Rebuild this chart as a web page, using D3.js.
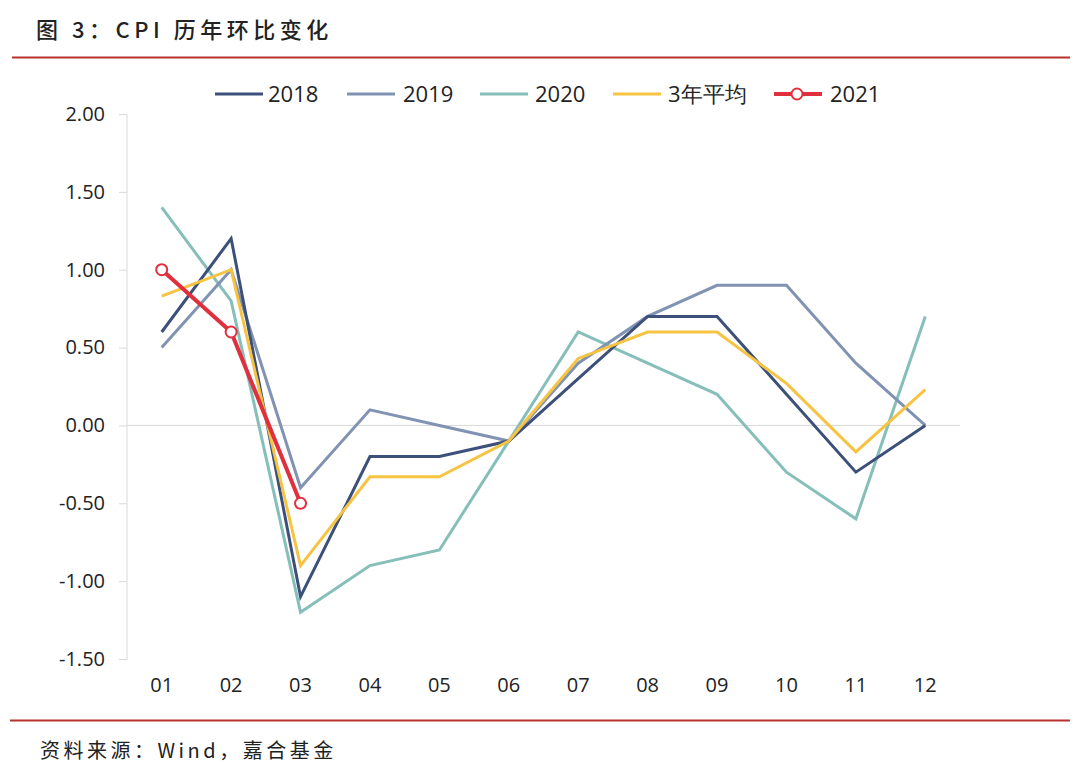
<!DOCTYPE html>
<html><head><meta charset="utf-8">
<script src="https://cdn.jsdelivr.net/npm/d3@7"></script>
<style>body{margin:0;background:#fff}svg{display:block}</style>
</head><body>
<script>
const months = ["01","02","03","04","05","06","07","08","09","10","11","12"];
const s2018 = [0.6,1.2,-1.1,-0.2,-0.2,-0.1,0.3,0.7,0.7,0.2,-0.3,0.0];
const s2019 = [0.5,1.0,-0.4,0.1,0.0,-0.1,0.4,0.7,0.9,0.9,0.4,0.0];
const s2020 = [1.4,0.8,-1.2,-0.9,-0.8,-0.1,0.6,0.4,0.2,-0.3,-0.6,0.7];
const sAvg  = [0.83,1.0,-0.9,-0.33,-0.33,-0.1,0.43,0.6,0.6,0.27,-0.17,0.23];
const s2021 = [1.0,0.6,-0.5];
const yTicks = [2.0,1.5,1.0,0.5,0.0,-0.5,-1.0,-1.5];
const seriesNames = ["2018","2019","2020","3年平均","2021"];

const W=1080,H=764;
const svg=d3.select("body").append("svg").attr("width",W).attr("height",H);
const cjk="'Noto Sans CJK SC', sans-serif";

svg.append("text").attr("x",36).attr("y",38).attr("font-family",cjk).attr("font-size",22)
  .attr("font-weight",500).attr("letter-spacing",4.5).attr("fill","#222").text("图 3：CPI 历年环比变化");
svg.append("line").attr("x1",12).attr("x2",1070).attr("y1",57.5).attr("y2",57.5).attr("stroke","#b8312f").attr("stroke-width",2);
svg.append("line").attr("x1",10).attr("x2",1070).attr("y1",720.5).attr("y2",720.5).attr("stroke","#b8312f").attr("stroke-width",2);
svg.append("text").attr("x",40).attr("y",758).attr("font-family",cjk).attr("font-size",20)
  .attr("letter-spacing",3.5).attr("fill","#222").text("资料来源：Wind，嘉合基金");

const x=d3.scaleBand().domain(months).range([127,960]);
const y=d3.scaleLinear().domain([-1.5,2.0]).range([659,114]);
const font="'Open Sans', sans-serif";
const fmt=v=>d3.format(".2f")(v).replace("\u2212","-");

svg.append("line").attr("x1",127).attr("x2",960).attr("y1",y(0)).attr("y2",y(0)).attr("stroke","#d9d9d9").attr("stroke-width",1);

const ya=svg.append("g").attr("transform","translate(127,0)")
  .call(d3.axisLeft(y).tickValues(yTicks).tickFormat(fmt).tickSize(8).tickPadding(14));
ya.select(".domain").attr("stroke","#d9d9d9").attr("d","M-0,114.5V659.5");
ya.selectAll(".tick line").attr("stroke","#d9d9d9");
ya.selectAll("text").attr("font-family",font).attr("font-size",20).attr("fill","#222");

const xa=svg.append("g").attr("transform",`translate(0,${y(0)})`)
  .call(d3.axisBottom(x).tickSize(0));
xa.select(".domain").remove();
xa.selectAll("text").attr("font-family",font).attr("font-size",20).attr("fill","#222")
  .attr("y",659-y(0)+33).attr("dy","0");

const colors={"2018":"#3c5079","2019":"#8193b3","2020":"#86bfba","3年平均":"#f6c343","2021":"#e0303e"};
const data={"2018":s2018,"2019":s2019,"2020":s2020,"3年平均":sAvg,"2021":s2021};
const line=d3.line().x((d,i)=>x(months[i])+x.bandwidth()/2).y(d=>y(d));
["2020","2019","2018","3年平均","2021"].forEach(k=>{
  svg.append("path").datum(data[k]).attr("d",line).attr("fill","none")
    .attr("stroke",colors[k]).attr("stroke-width",k==="2021"?4:3).attr("stroke-linejoin","miter");
});
svg.selectAll("circle.p").data(s2021).enter().append("circle")
  .attr("cx",(d,i)=>x(months[i])+x.bandwidth()/2).attr("cy",d=>y(d)).attr("r",5.5)
  .attr("fill","#fff").attr("stroke",colors["2021"]).attr("stroke-width",2);

const legX=[215,347,480,613,774];
const legT=[268,403,535,668,830];
seriesNames.forEach((k,i)=>{
  const g=svg.append("g").attr("transform",`translate(${legX[i]},94)`);
  g.append("line").attr("x1",0).attr("x2",48).attr("stroke",colors[k]).attr("stroke-width",k==="2021"?4:3);
  if(k==="2021") g.append("circle").attr("cx",23).attr("r",5.5).attr("fill","#fff").attr("stroke",colors[k]).attr("stroke-width",2);
  g.append("text").attr("x",legT[i]-legX[i]).attr("y",8).attr("font-family",font).attr("font-size",22).attr("fill","#222").text(k);
});
</script>
</body></html>
